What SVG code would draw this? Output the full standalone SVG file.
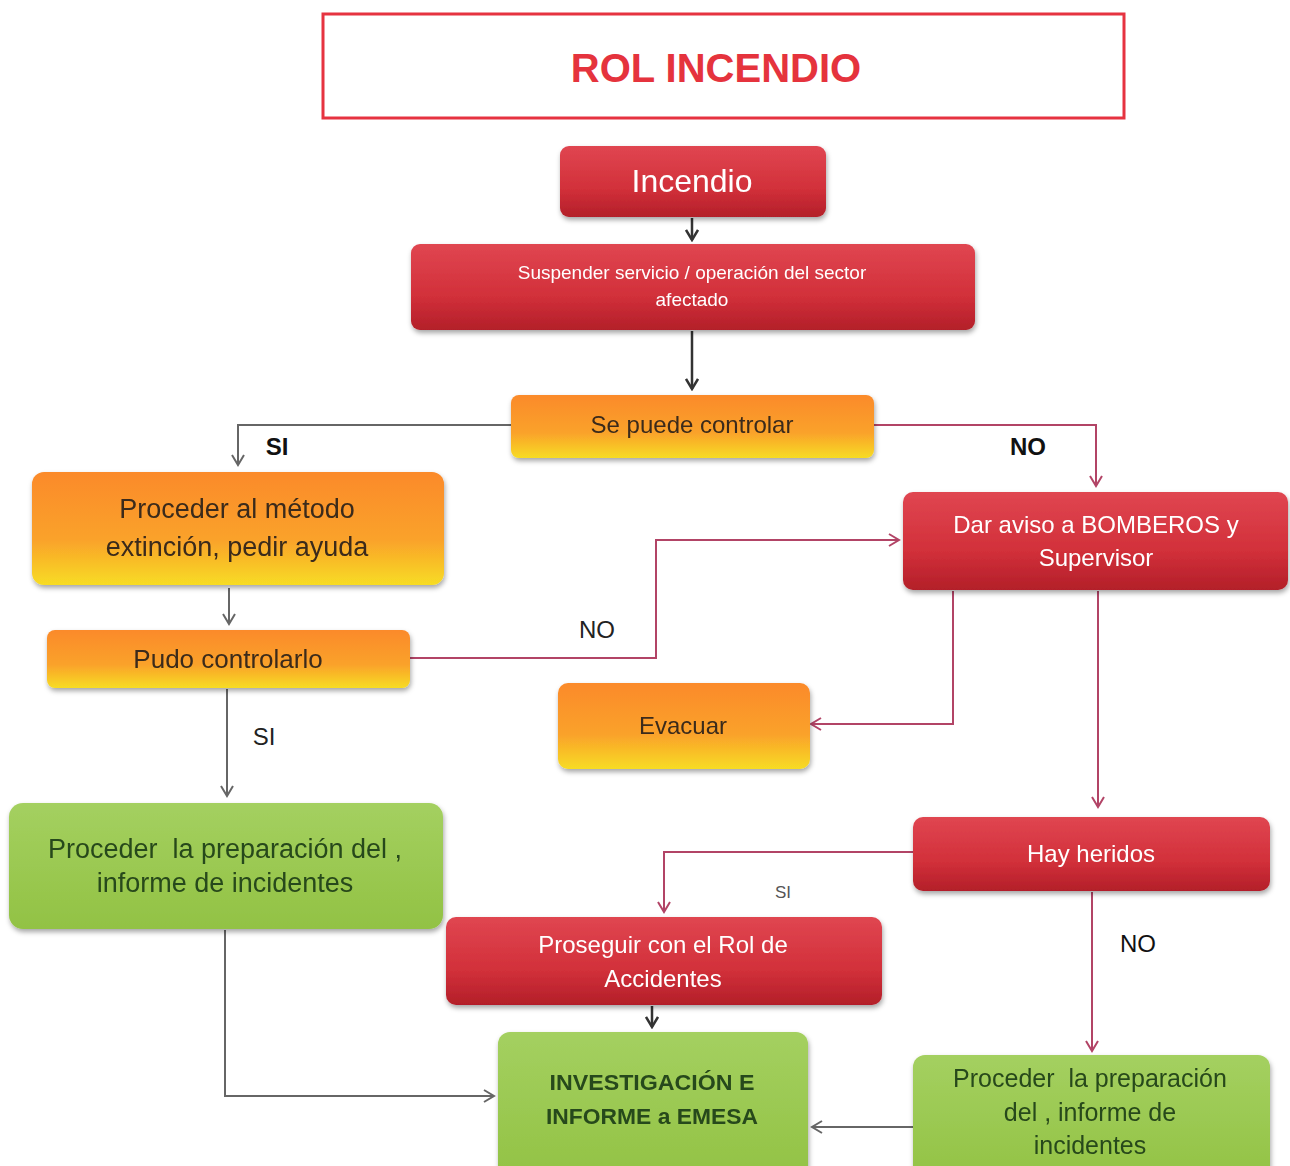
<svg xmlns="http://www.w3.org/2000/svg" width="1290" height="1166" viewBox="0 0 1290 1166">
<style>
text{font-family:"Liberation Sans",Arial,sans-serif;text-anchor:middle}
.wt{fill:#ffffff}
.dk{fill:#3a2a1a}
.gt{fill:#28481a;white-space:pre}
.lbl{fill:#222;font-size:24px}
.gray{fill:none;stroke:#666;stroke-width:2}
.pink{fill:none;stroke:#b24466;stroke-width:2}
.dark{fill:none;stroke:#333;stroke-width:2.5}
</style>
<defs>
<linearGradient id="gr" x1="0" y1="0" x2="0" y2="1">
<stop offset="0" stop-color="#e04651"/><stop offset="0.6" stop-color="#d2303a"/><stop offset="1" stop-color="#b31f29"/>
</linearGradient>
<linearGradient id="go" x1="0" y1="0" x2="0" y2="1">
<stop offset="0" stop-color="#fb8a2a"/><stop offset="0.6" stop-color="#faa22a"/><stop offset="1" stop-color="#f7dc24"/>
</linearGradient>
<linearGradient id="gg" x1="0" y1="0" x2="0" y2="1">
<stop offset="0" stop-color="#a4d060"/><stop offset="1" stop-color="#92c244"/>
</linearGradient>
<filter id="sh" x="-10%" y="-10%" width="120%" height="130%">
<feDropShadow dx="1" dy="3" stdDeviation="2.5" flood-color="#000" flood-opacity="0.35"/>
</filter>
<marker id="ag" markerWidth="14" markerHeight="14" refX="12" refY="7" orient="auto" markerUnits="userSpaceOnUse">
<path d="M2,1 L12,7 L2,13" fill="none" stroke="#666" stroke-width="2"/>
</marker>
<marker id="ap" markerWidth="14" markerHeight="14" refX="12" refY="7" orient="auto" markerUnits="userSpaceOnUse">
<path d="M2,1 L12,7 L2,13" fill="none" stroke="#b24466" stroke-width="2"/>
</marker>
<marker id="ad" markerWidth="14" markerHeight="14" refX="12" refY="7" orient="auto" markerUnits="userSpaceOnUse">
<path d="M2,1 L12,7 L2,13" fill="none" stroke="#333" stroke-width="2.5"/>
</marker>
</defs>
<rect width="1290" height="1166" fill="#ffffff"/>

<g id="title">
<rect x="323" y="14" width="801" height="104" fill="#fff" stroke="#e63340" stroke-width="3"/>
<text x="716" y="82" font-size="40" font-weight="bold" fill="#e5333d">ROL INCENDIO</text>
</g>

<g id="connectors">
<line class="dark" x1="692" y1="218" x2="692" y2="240" marker-end="url(#ad)"/>
<line class="dark" x1="692" y1="331" x2="692" y2="389" marker-end="url(#ad)"/>
<polyline class="gray" points="511,425 238,425 238,465" marker-end="url(#ag)"/>
<polyline class="pink" points="874,425 1096,425 1096,486" marker-end="url(#ap)"/>
<line class="gray" x1="229" y1="588" x2="229" y2="624" marker-end="url(#ag)"/>
<polyline class="pink" points="410,658 656,658 656,540 899,540" marker-end="url(#ap)"/>
<polyline class="pink" points="953,591 953,724 811,724" marker-end="url(#ap)"/>
<line class="pink" x1="1098" y1="591" x2="1098" y2="807" marker-end="url(#ap)"/>
<line class="gray" x1="227" y1="689" x2="227" y2="796" marker-end="url(#ag)"/>
<polyline class="pink" points="913,852 664,852 664,912" marker-end="url(#ap)"/>
<line class="dark" x1="652" y1="1006" x2="652" y2="1027" marker-end="url(#ad)"/>
<polyline class="gray" points="225,930 225,1096 494,1096" marker-end="url(#ag)"/>
<line class="pink" x1="1092" y1="892" x2="1092" y2="1051" marker-end="url(#ap)"/>
<line class="gray" x1="913" y1="1127" x2="812" y2="1127" marker-end="url(#ag)"/>
<text x="277" y="455" font-size="24" font-weight="bold" fill="#111">SI</text>
<text x="1028" y="455" font-size="24" font-weight="bold" fill="#111">NO</text>
<text x="597" y="638" class="lbl" fill="#333">NO</text>
<text x="264" y="745" class="lbl" fill="#444">SI</text>
<text x="783" y="898" font-size="17" fill="#555">SI</text>
<text x="1138" y="952" font-size="24" fill="#111">NO</text>
</g>

<g id="n-incendio" filter="url(#sh)">
<rect x="560" y="146" width="266" height="71" rx="9" fill="url(#gr)"/>
<text x="692" y="192" font-size="32" class="wt">Incendio</text>
</g>
<g id="n-suspender" filter="url(#sh)">
<rect x="411" y="244" width="564" height="86" rx="9" fill="url(#gr)"/>
<text x="692" y="279" font-size="19" class="wt">Suspender servicio / operación del sector</text>
<text x="692" y="306" font-size="19" class="wt">afectado</text>
</g>
<g id="n-sepuede" filter="url(#sh)">
<rect x="511" y="395" width="363" height="63" rx="8" fill="url(#go)"/>
<text x="692" y="433" font-size="24" class="dk">Se puede controlar</text>
</g>
<g id="n-proceder-metodo" filter="url(#sh)">
<rect x="32" y="472" width="412" height="113" rx="12" fill="url(#go)"/>
<text x="237" y="518" font-size="27" class="dk">Proceder al método</text>
<text x="237" y="556" font-size="27" class="dk">extinción, pedir ayuda</text>
</g>
<g id="n-pudo" filter="url(#sh)">
<rect x="47" y="630" width="363" height="58" rx="8" fill="url(#go)"/>
<text x="228" y="668" font-size="26" class="dk">Pudo controlarlo</text>
</g>
<g id="n-aviso" filter="url(#sh)">
<rect x="903" y="492" width="385" height="98" rx="10" fill="url(#gr)"/>
<text x="1096" y="533" font-size="24" class="wt">Dar aviso a BOMBEROS y</text>
<text x="1096" y="566" font-size="24" class="wt">Supervisor</text>
</g>
<g id="n-evacuar" filter="url(#sh)">
<rect x="558" y="683" width="252" height="86" rx="10" fill="url(#go)"/>
<text x="683" y="734" font-size="24" class="dk">Evacuar</text>
</g>
<g id="n-informe-izq" filter="url(#sh)">
<rect x="9" y="803" width="434" height="126" rx="14" fill="url(#gg)"/>
<text x="225" y="858" font-size="27" class="gt">Proceder  la preparación del ,</text>
<text x="225" y="892" font-size="27" class="gt">informe de incidentes</text>
</g>
<g id="n-heridos" filter="url(#sh)">
<rect x="913" y="817" width="357" height="74" rx="10" fill="url(#gr)"/>
<text x="1091" y="862" font-size="24" class="wt">Hay heridos</text>
</g>
<g id="n-proseguir" filter="url(#sh)">
<rect x="446" y="917" width="436" height="88" rx="10" fill="url(#gr)"/>
<text x="663" y="953" font-size="24" class="wt">Proseguir con el Rol de</text>
<text x="663" y="987" font-size="24" class="wt">Accidentes</text>
</g>
<g id="n-investigacion" filter="url(#sh)">
<rect x="498" y="1032" width="310" height="150" rx="12" fill="url(#gg)"/>
<text x="652" y="1090" font-size="22" font-weight="bold" class="gt" textLength="205" lengthAdjust="spacingAndGlyphs">INVESTIGACIÓN E</text>
<text x="652" y="1124" font-size="22" font-weight="bold" class="gt" textLength="212" lengthAdjust="spacingAndGlyphs">INFORME a EMESA</text>
</g>
<g id="n-informe-der" filter="url(#sh)">
<rect x="913" y="1055" width="357" height="130" rx="12" fill="url(#gg)"/>
<text x="1090" y="1087" font-size="25" class="gt">Proceder  la preparación</text>
<text x="1090" y="1121" font-size="25" class="gt">del , informe de</text>
<text x="1090" y="1154" font-size="25" class="gt">incidentes</text>
</g>
</svg>
